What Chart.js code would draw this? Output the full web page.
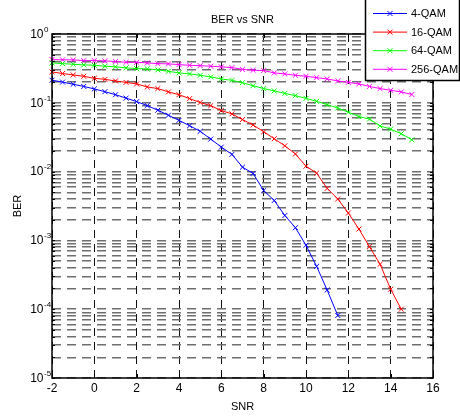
<!DOCTYPE html>
<html>
<head>
<meta charset="utf-8">
<script src="https://cdn.jsdelivr.net/npm/chart.js@4.4.0/dist/chart.umd.min.js"></script>
<style>
  html, body { margin: 0; padding: 0; background: #fff; }
  canvas { display: block; }
</style>
</head>
<body>
<canvas id="berChart" width="460" height="416"></canvas>
<script>
// SNR steps in dB (one marker per step)
const snrDb = [-2, -1.5, -1, -0.5, 0, 0.5, 1, 1.5, 2, 2.5, 3, 3.5, 4, 4.5, 5, 5.5, 6, 6.5,
  7, 7.5, 8, 8.5, 9, 9.5, 10, 10.5, 11, 11.5, 12, 12.5, 13, 13.5, 14, 14.5, 15];

// BER
const ber4qam = [0.213, 0.200, 0.186, 0.173, 0.159, 0.145, 0.131, 0.117, 0.104, 0.091,
  0.078, 0.066, 0.0555, 0.0465, 0.0385, 0.0297, 0.0227, 0.0178,
  0.0116, 0.0094, 0.0053, 0.0038, 0.0023, 0.00153, 0.00085, 0.00042, 0.00019, 0.000081];
const ber16qam = [0.281, 0.266, 0.254, 0.243, 0.227, 0.219, 0.208, 0.198, 0.188, 0.170,
  0.161, 0.144, 0.131, 0.115, 0.101, 0.091, 0.077, 0.069,
  0.057, 0.0475, 0.038, 0.030, 0.0237, 0.018, 0.012, 0.0095, 0.0057, 0.004,
  0.0025, 0.00146, 0.00081, 0.00045, 0.000195, 0.0001];
const ber64qam = [0.380, 0.371, 0.363, 0.356, 0.351, 0.340, 0.333, 0.322, 0.314, 0.311,
  0.301, 0.287, 0.272, 0.263, 0.251, 0.238, 0.222, 0.212,
  0.196, 0.177, 0.161, 0.149, 0.137, 0.127, 0.116, 0.105, 0.094, 0.084,
  0.073, 0.063, 0.058, 0.046, 0.0415, 0.0355, 0.029];
const ber256qam = [0.425, 0.421, 0.421, 0.411, 0.411, 0.407, 0.397, 0.388, 0.388, 0.380,
  0.371, 0.368, 0.359, 0.351, 0.347, 0.340, 0.333, 0.325,
  0.306, 0.297, 0.294, 0.272, 0.263, 0.251, 0.243, 0.232, 0.222, 0.208,
  0.198, 0.188, 0.173, 0.161, 0.152, 0.144, 0.132];

const seriesNames = ['4-QAM', '16-QAM', '64-QAM', '256-QAM'];
const seriesColors = ['#0000ff', '#ff0000', '#00ff00', '#ff00ff'];
const seriesBer = [ber4qam, ber16qam, ber64qam, ber256qam];

const xTicks = [-2, 0, 2, 4, 6, 8, 10, 12, 14, 16];
const yExponents = [0, -1, -2, -3, -4, -5];
const yMantissas = [1, 2, 3, 4, 5, 6, 7, 8, 9];

const FONT = '"Liberation Sans", Arial, Helvetica, sans-serif';

// grid ticks for the log axis: 1..9 in each decade
const yGridTicks = [];
yExponents.slice().reverse().forEach(e => {
  yMantissas.forEach(m => {
    if (e === 0 && m > 1) return;
    yGridTicks.push({ value: m * Math.pow(10, e) });
  });
});

const datasets = seriesBer.map((ber, i) => ({
  label: seriesNames[i],
  data: ber.map((v, k) => ({ x: snrDb[k], y: v })),
  borderColor: seriesColors[i],
  backgroundColor: seriesColors[i],
  borderWidth: 1,
  pointStyle: 'crossRot',
  pointRadius: 3.5,
  pointBorderWidth: 1,
  tension: 0,
  clip: false
}));

function drawCross(ctx, cx, cy, r) {
  ctx.beginPath();
  ctx.moveTo(cx - r, cy - r); ctx.lineTo(cx + r, cy + r);
  ctx.moveTo(cx - r, cy + r); ctx.lineTo(cx + r, cy - r);
  ctx.stroke();
}

const frameAndText = {
  id: 'frameAndText',
  afterDraw(chart) {
    const { ctx, chartArea: a, scales: { x, y } } = chart;
    ctx.save();

    // axes box and inward ticks
    ctx.strokeStyle = '#000';
    ctx.lineWidth = 1.5;
    ctx.strokeRect(a.left, a.top, a.right - a.left, a.bottom - a.top);
    ctx.lineWidth = 1;
    ctx.beginPath();
    xTicks.forEach(v => {
      const px = Math.round(x.getPixelForValue(v)) + 0.5;
      ctx.moveTo(px, a.bottom); ctx.lineTo(px, a.bottom - 4);
      ctx.moveTo(px, a.top); ctx.lineTo(px, a.top + 4);
    });
    yGridTicks.forEach(t => {
      const py = Math.round(y.getPixelForValue(t.value)) + 0.5;
      ctx.moveTo(a.left, py); ctx.lineTo(a.left + 3, py);
      ctx.moveTo(a.right, py); ctx.lineTo(a.right - 3, py);
    });
    ctx.stroke();

    // tick labels
    ctx.fillStyle = '#000';
    ctx.textBaseline = 'middle';
    ctx.font = '12px ' + FONT;
    ctx.textAlign = 'center';
    xTicks.forEach(v => ctx.fillText(String(v), x.getPixelForValue(v), a.bottom + 10.5));

    yExponents.forEach(e => {
      const py = y.getPixelForValue(Math.pow(10, e));
      ctx.font = '12px ' + FONT;
      ctx.textAlign = 'right';
      ctx.fillText('10', a.left - 8.5, py + 0.5);
      ctx.font = '8px ' + FONT;
      ctx.textAlign = 'left';
      ctx.fillText(String(e), a.left - 8, py - 4.5);
    });

    // titles
    ctx.font = '11px ' + FONT;
    ctx.textAlign = 'center';
    ctx.fillText('BER vs SNR', (a.left + a.right) / 2, 20);
    ctx.fillText('SNR', (a.left + a.right) / 2, 406.5);
    ctx.save();
    ctx.translate(18, (a.top + a.bottom) / 2);
    ctx.rotate(-Math.PI / 2);
    ctx.fillText('BER', 0, 0);
    ctx.restore();

    // legend box, top right, over the plot
    ctx.fillStyle = '#fff';
    ctx.fillRect(365.5, -2, 94, 82.5);
    ctx.strokeStyle = '#000';
    ctx.lineWidth = 1.5;
    ctx.strokeRect(365.5, -2, 94, 82.5);
    ctx.font = '11px ' + FONT;
    ctx.textAlign = 'left';
    seriesNames.forEach((name, i) => {
      const ly = 13.5 + i * 18.6;
      ctx.strokeStyle = seriesColors[i];
      ctx.lineWidth = 1;
      ctx.beginPath();
      ctx.moveTo(373, ly); ctx.lineTo(407, ly);
      ctx.stroke();
      drawCross(ctx, 390, ly, 2.5);
      ctx.fillStyle = '#000';
      ctx.fillText(name, 411, ly + 0.5);
    });

    ctx.restore();
  }
};

new Chart(document.getElementById('berChart'), {
  type: 'line',
  data: { datasets: datasets },
  options: {
    responsive: false,
    devicePixelRatio: 1,
    animation: false,
    events: [],
    layout: { padding: { left: 52, top: 34, right: 27, bottom: 38 } },
    plugins: {
      legend: { display: false },
      title: { display: false },
      tooltip: { enabled: false }
    },
    scales: {
      x: {
        type: 'linear',
        min: -2,
        max: 16,
        ticks: { display: false, stepSize: 2 },
        grid: { color: '#111', lineWidth: 1, drawTicks: false },
        border: { display: false, dash: [8, 6] }
      },
      y: {
        type: 'logarithmic',
        min: 1e-5,
        max: 1,
        afterBuildTicks: scale => { scale.ticks = yGridTicks.map(t => ({ value: t.value })); },
        ticks: { display: false, autoSkip: false },
        grid: { color: '#6e6e6e', lineWidth: 1.5, drawTicks: false },
        border: { display: false, dash: [9, 6] }
      }
    }
  },
  plugins: [frameAndText]
});
</script>
</body>
</html>
